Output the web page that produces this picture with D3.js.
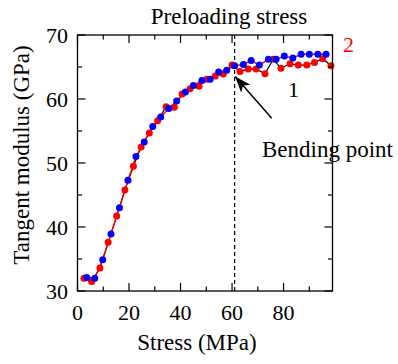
<!DOCTYPE html>
<html>
<head>
<meta charset="utf-8">
<script src="https://cdn.jsdelivr.net/npm/d3@7"></script>
<style>
  html, body { margin: 0; padding: 0; background: #fff; }
  svg { display: block; }
</style>
</head>
<body>
<svg id="chart" width="398" height="364"></svg>
<script>
// Series 1: red markers, black line
const stress1 = [2.5, 5.5, 8.7, 11.9, 15.2, 18.4, 21.7, 24.7, 27.9, 31.1, 34.4, 37.6, 40.6, 43.7, 47.2, 50.2, 53.5, 56.6, 60.0, 63.1, 66.3, 69.3, 72.8, 76.0, 79.0, 82.5, 85.7, 89.0, 92.0, 95.2, 98.4];
const modulus1 = [32.0, 31.5, 33.6, 37.6, 41.7, 45.8, 49.5, 52.5, 54.7, 56.6, 58.8, 58.7, 60.8, 61.6, 62.0, 63.1, 63.6, 63.9, 65.3, 64.3, 64.7, 64.7, 63.95, 66.2, 64.8, 65.5, 65.3, 65.3, 65.7, 66.3, 65.2];
// Series 2: blue markers, red line
const stress2 = [3.6, 6.7, 9.8, 13.0, 16.3, 19.6, 22.7, 25.9, 29.2, 32.3, 35.4, 38.5, 41.9, 45.0, 48.3, 51.5, 54.8, 57.9, 61.0, 64.4, 67.4, 70.6, 74.1, 77.1, 80.3, 83.6, 86.8, 90.0, 93.3, 96.5];
const modulus2 = [32.1, 32.0, 34.9, 38.9, 43.0, 47.3, 51.0, 53.3, 55.7, 57.2, 58.5, 59.7, 61.1, 62.1, 62.9, 63.1, 64.2, 64.5, 65.2, 65.4, 66.0, 65.3, 66.2, 66.2, 66.7, 66.4, 67.0, 67.0, 67.0, 67.0];

const xTicks = [0, 20, 40, 60, 80];
const xMinor = [10, 30, 50, 70, 90];
const yTicks = [30, 40, 50, 60, 70];
const yMinor = [35, 45, 55, 65];
const preload = 61;
const arrowTail = [75.4, 57.0];
const arrowTip = [61.2, 63.5];

const FONT = "'Liberation Serif', 'Times New Roman', Times, 'DejaVu Serif', serif";

const svg = d3.select("#chart").attr("font-family", FONT);
const x = d3.scaleLinear().domain([0, 99]).range([77.5, 332.5]);
const y = d3.scaleLinear().domain([30, 70]).range([291, 35]);
const [x0, x1] = x.range();
const [y0, y1] = y.range();

// defs arrow marker
svg.append("defs").append("marker")
  .attr("id", "ah").attr("viewBox", "0 0 16 12")
  .attr("refX", 16).attr("refY", 6)
  .attr("markerWidth", 16).attr("markerHeight", 12)
  .attr("markerUnits", "userSpaceOnUse")
  .attr("orient", "auto")
  .append("path").attr("d", "M0,0 L16,6 L0,12 L4,6 Z").attr("fill", "#000");

// dashed preload line
svg.append("line")
  .attr("x1", x(preload)).attr("x2", x(preload))
  .attr("y1", y1).attr("y2", y0)
  .attr("stroke", "#000").attr("stroke-width", 1.2)
  .attr("stroke-dasharray", "4,3");

// lines
const d1 = stress1.map((s, i) => [s, modulus1[i]]);
const d2 = stress2.map((s, i) => [s, modulus2[i]]);
const line = d3.line().x(d => x(d[0])).y(d => y(d[1]));
svg.append("path").attr("d", line(d1)).attr("fill", "none").attr("stroke", "#000").attr("stroke-width", 1.2);
svg.append("path").attr("d", line(d2)).attr("fill", "none").attr("stroke", "#ff0000").attr("stroke-width", 1.4);

// markers
svg.append("g").selectAll("circle").data(d1).join("circle")
  .attr("cx", d => x(d[0])).attr("cy", d => y(d[1])).attr("r", 3.5).attr("fill", "#ff0000");
svg.append("g").selectAll("circle").data(d2).join("circle")
  .attr("cx", d => x(d[0])).attr("cy", d => y(d[1])).attr("r", 3.5).attr("fill", "#0000ff");

// frame
svg.append("rect").attr("x", x0).attr("y", y1).attr("width", x1 - x0).attr("height", y0 - y1)
  .attr("fill", "none").attr("stroke", "#000").attr("stroke-width", 1.3);

// axes ticks (inward, mirrored)
const tk = svg.append("g").attr("stroke", "#000").attr("stroke-width", 1.2);
xTicks.concat(xMinor).forEach(v => {
  const L = xTicks.includes(v) ? 8 : 4.5;
  tk.append("line").attr("x1", x(v)).attr("x2", x(v)).attr("y1", y0).attr("y2", y0 - L);
  tk.append("line").attr("x1", x(v)).attr("x2", x(v)).attr("y1", y1).attr("y2", y1 + L);
});
yTicks.concat(yMinor).forEach(v => {
  const L = yTicks.includes(v) ? 8 : 4.5;
  tk.append("line").attr("y1", y(v)).attr("y2", y(v)).attr("x1", x0).attr("x2", x0 + L);
  tk.append("line").attr("y1", y(v)).attr("y2", y(v)).attr("x1", x1).attr("x2", x1 - L);
});

// tick labels
svg.append("g").selectAll("text").data(xTicks).join("text")
  .attr("x", d => x(d)).attr("y", 320).attr("text-anchor", "middle")
  .attr("font-size", 22).attr("fill", "#000").text(d => d);
svg.append("g").selectAll("text").data(yTicks).join("text")
  .attr("x", 68).attr("y", d => y(d) + 7.5).attr("text-anchor", "end")
  .attr("font-size", 22).attr("fill", "#000").text(d => d);

// axis titles
svg.append("text").attr("x", (x0 + x1) / 2 - 8).attr("y", 350).attr("text-anchor", "middle")
  .attr("font-size", 23).attr("fill", "#000").text("Stress (MPa)");
svg.append("text").attr("transform", `translate(29,${(y0 + y1) / 2 - 8}) rotate(-90)`)
  .attr("text-anchor", "middle").attr("font-size", 23).attr("fill", "#000").text("Tangent modulus (GPa)");

// annotations
svg.append("text").attr("x", 229).attr("y", 24).attr("text-anchor", "middle")
  .attr("font-size", 23).attr("fill", "#000").text("Preloading stress");
svg.append("text").attr("x", 262).attr("y", 157).attr("font-size", 23).attr("fill", "#000").text("Bending point");
svg.append("text").attr("x", 343).attr("y", 52).attr("font-size", 22).attr("fill", "#ff0000").text("2");
svg.append("text").attr("x", 288).attr("y", 97).attr("font-size", 22).attr("fill", "#000").text("1");

svg.append("line")
  .attr("x1", x(arrowTail[0])).attr("y1", y(arrowTail[1]))
  .attr("x2", x(arrowTip[0])).attr("y2", y(arrowTip[1]))
  .attr("stroke", "#000").attr("stroke-width", 1.5)
  .attr("marker-end", "url(#ah)");
</script>
</body>
</html>
